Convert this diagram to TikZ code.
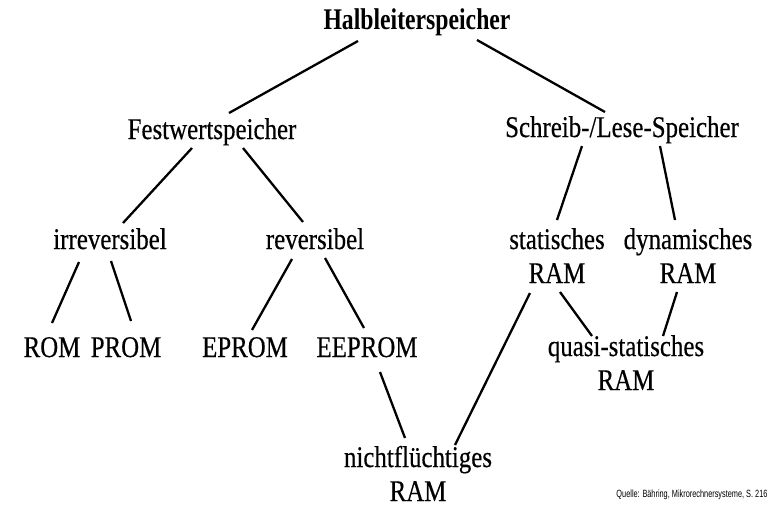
\documentclass[tikz,border=0pt]{standalone}
\usepackage{fontspec}
\setmainfont{Liberation Serif}[FakeStretch=0.83, FakeBold=0.4]
\newfontfamily\rootfont{Liberation Serif Bold}[FakeStretch=0.79]
\newfontfamily\quellfont{Liberation Sans}[FakeStretch=0.7]
\usetikzlibrary{positioning}

\begin{document}
\begin{tikzpicture}[
        x=1pt, y=-1pt,
        term/.style={font=\fontsize{30}{34}\selectfont, inner sep=0pt, anchor=base, align=center},
        root/.style={term, font=\rootfont\fontsize{30}{34}\selectfont},
        link/.style={line width=2.3pt, black}
    ]
    \useasboundingbox (0,0) rectangle (769,507);

    % top level
    \node[root] (halb) at (417, 29) {Halbleiterspeicher};
    \node[term] (fest) at (212, 139) {Festwertspeicher};
    \node[term] (schreib) at (622, 137) {Schreib-/Lese-Speicher};
    \draw[link] ([shift={(-59,12)}]halb.base) -- ([shift={(17,-26)}]fest.base);
    \draw[link] ([shift={(60,11)}]halb.base) -- ([shift={(-17,-25)}]schreib.base);

    % Left diagram - Festwertspeicher
    \node[term] (irrev) at (110, 249) {irreversibel};
    \node[term] (rev) at (315, 249) {reversibel};
    \node[term] (rom) at (52, 357) {ROM};
    \node[term] (prom) at (126, 357) {PROM};
    \node[term] (eprom) at (245, 357) {EPROM};
    \node[term] (eeprom) at (367, 357) {EEPROM};
    \draw[link] ([shift={(-20,9)}]fest.base) -- ([shift={(13,-26)}]irrev.base);
    \draw[link] ([shift={(31,9)}]fest.base) -- ([shift={(-12,-27)}]rev.base);
    \draw[link] ([shift={(-31,13)}]irrev.base) -- ([shift={(0,-34)}]rom.base);
    \draw[link] ([shift={(1,12)}]irrev.base) -- ([shift={(5,-36)}]prom.base);
    \draw[link] ([shift={(-23,10)}]rev.base) -- ([shift={(7,-27)}]eprom.base);
    \draw[link] ([shift={(10,9)}]rev.base) -- ([shift={(-3,-29)}]eeprom.base);

    % Right diagram - Schreib-/Lese-Speicher (base = last line)
    \node[term] (stat) at (557, 283) {statisches\\RAM};
    \node[term] (dyn) at (688, 283) {dynamisches\\RAM};
    \node[term] (quasi) at (626, 390) {quasi-statisches\\RAM};
    \draw[link] ([shift={(-40,9)}]schreib.base) -- ([shift={(0,-63)}]stat.base);
    \draw[link] ([shift={(38,9)}]schreib.base) -- ([shift={(-13,-63)}]dyn.base);
    \draw[link] ([shift={(3,9)}]stat.base) -- ([shift={(-34,-54)}]quasi.base);
    \draw[link] ([shift={(-11,9)}]dyn.base) -- ([shift={(37,-54)}]quasi.base);

    % both sides meet
    \node[term] (nicht) at (418, 501) {nichtflüchtiges\\RAM};
    \draw[link] ([shift={(13,15)}]eeprom.base) -- ([shift={(-13,-63)}]nicht.base);
    \draw[link] ([shift={(-27,10)}]stat.base) -- ([shift={(37,-56)}]nicht.base);

    \node[font=\quellfont\fontsize{10.5}{12}\selectfont, inner sep=0pt, anchor=base] (quelle) at (692, 497)
        {Quelle: Bähring, Mikrorechnersysteme, S. 216};
\end{tikzpicture}
\end{document}
